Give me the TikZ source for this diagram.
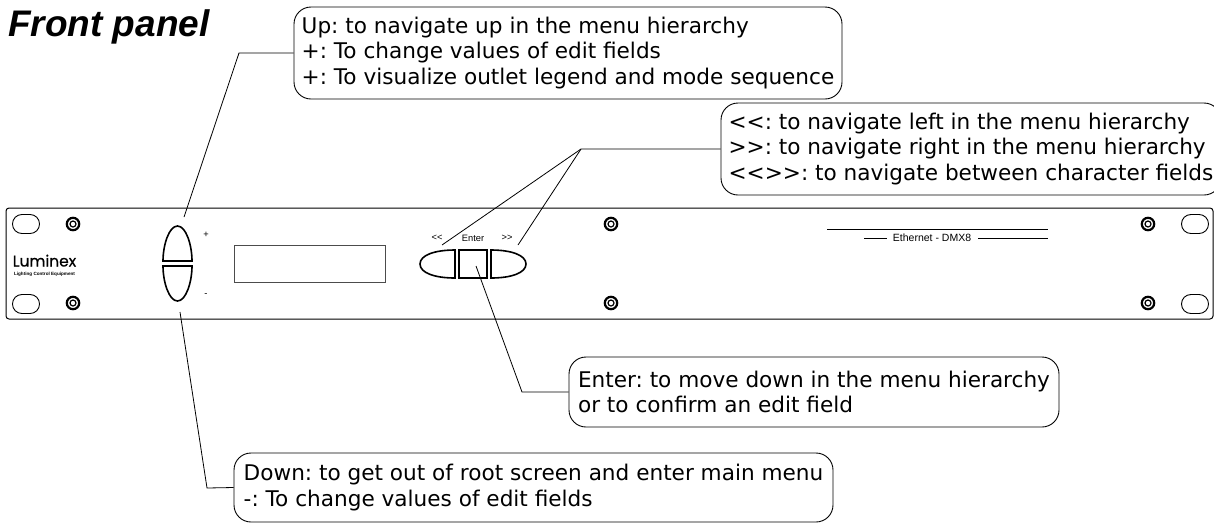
\documentclass[tikz,border=0pt]{standalone}
\usepackage{fontspec}
\setmainfont{DejaVu Sans}
\newfontfamily\arialfont{Liberation Sans}
\newfontfamily\logofont[FakeBold=0.5]{Poppins}
\frenchspacing
\tikzset{
    callout/.style={draw, rounded corners=17pt, align=left, inner sep=0pt, line width=0.9pt,
        font=\frenchspacing\fontsize{21.6}{25.8}\selectfont,
        execute at begin node={\rule{0pt}{22pt}}},
    hole/.style={draw, rounded corners=9.4pt, minimum width=27pt, minimum height=19pt, inner sep=0pt, line width=0.9pt},
    button/.style={draw, line width=1.6pt},
    small/.style={font=\arialfont\fontsize{9.3}{9.3}\selectfont, inner sep=0pt},
    leader/.style={draw, line width=0.8pt}
}
\newcommand{\screw}[2]{
    \draw[line width=2.2pt] (#1, #2) circle (6.2pt);
    \draw[line width=1.2pt] (#1, #2) circle (3pt);
}
\begin{document}
\begin{tikzpicture}[x=1pt, y=-1pt]
    \useasboundingbox (0, 0) rectangle (1214, 523);

    \node[inner sep=0pt, anchor=base west, font=\arialfont\bfseries\itshape\fontsize{37}{37}\selectfont] (title) at (8, 36) {Front panel};

    \begin{scope}
        % Panel
        \draw[line width=1pt, rounded corners=3pt] (6, 208) rectangle (1213, 319);
        \node[hole] (holea) at (26, 224) {};
        \node[hole] (holeb) at (26, 304) {};
        \node[hole] (holec) at (1195, 224) {};
        \node[hole] (holed) at (1195, 304) {};

        % Screws
        \screw{73}{224}
        \screw{73}{303}
        \screw{611}{224}
        \screw{611}{303}
        \screw{1148}{224}
        \screw{1148}{303}

        % Logo
        \node[inner sep=0pt, anchor=base, font=\logofont\fontsize{15.5}{15.5}\selectfont] (logo) at (44.5, 266.5) {Luminex};
        \node[inner sep=0pt, font=\arialfont\bfseries\fontsize{4.6}{4.6}\selectfont] (slogan) at (44.5, 274) {Lighting Control Equipment};

        % Up and Down
        \draw[button] (163, 261) .. controls (163, 245) and (169, 226) .. (177.5, 226) .. controls (186, 226) and (192, 245) .. (192, 261) -- cycle;
        \draw[button] (163, 266) .. controls (163, 282) and (169, 301) .. (177.5, 301) .. controls (186, 301) and (192, 282) .. (192, 266) -- cycle;
        \node[small] (plus) at (206, 235) {+};
        \node[small] (minus) at (206, 295) {-};

        % Display
        \draw[line width=1pt, draw=black!70] (234, 245) rectangle (385, 282);

        % Navigation buttons
        \draw[button] (455, 250) .. controls (435, 250) and (420, 255) .. (420, 264) .. controls (420, 273) and (435, 278) .. (455, 278) -- cycle;
        \draw[button] (459, 250) rectangle (487, 278);
        \draw[button] (491, 250) .. controls (511, 250) and (526, 255) .. (526, 264) .. controls (526, 273) and (511, 278) .. (491, 278) -- cycle;
        \node[small] (left) at (437, 238) {<<};
        \node[small] (enter) at (473, 238) {Enter};
        \node[small] (right) at (507, 238) {>>};

        % Name plate
        \draw[line width=0.9pt] (827, 229) -- (1048, 229);
        \draw[line width=0.8pt] (864, 238) -- (887, 238);
        \draw[line width=0.8pt] (978, 238) -- (1048, 238);
        \node[inner sep=0pt, font=\arialfont\fontsize{10.5}{10.5}\selectfont] (name) at (932, 238) {Ethernet - DMX8};
    \end{scope}

    \begin{scope}
        % Callouts
        \node[callout, minimum width=548pt, minimum height=92pt] (upbox) at (568, 53) {Up: to navigate up in the menu hierarchy\\+: To change values of edit fields\\+: To visualize outlet legend and mode sequence};
        \node[callout, minimum width=500pt, minimum height=92pt] (navbox) at (971, 149) {<{}<: to navigate left in the menu hierarchy\\>{}>: to navigate right in the menu hierarchy\\<{}<{}>{}>: to navigate between character fields};
        \node[callout, minimum width=490pt, minimum height=70pt] (enterbox) at (814, 392) {Enter: to move down in the menu hierarchy\\or to confirm an edit field};
        \node[callout, minimum width=599pt, minimum height=69pt] (downbox) at (533.5, 487.5) {Down: to get out of root screen and enter main menu\\-: To change values of edit fields};

        % Connect Nodes
        \coordinate (upknee) at (239, 53);
        \coordinate (upend) at (184, 217);
        \coordinate (navknee) at (581, 149);
        \coordinate (leftend) at (442, 245);
        \coordinate (rightend) at (518, 245);
        \coordinate (enterknee) at (522, 392);
        \coordinate (enterend) at (476, 266);
        \coordinate (downknee) at (207, 488);
        \coordinate (downend) at (180, 312);

        \draw[leader] (upbox.west) -- (upknee) -- (upend);
        \draw[leader] (navbox.west) -- (navknee) -- (leftend);
        \draw[leader] (navknee) -- (rightend);
        \draw[leader] (enterbox.west) -- (enterknee) -- (enterend);
        \draw[leader] (downbox.west) -- (downknee) -- (downend);
    \end{scope}
\end{tikzpicture}
\end{document}
